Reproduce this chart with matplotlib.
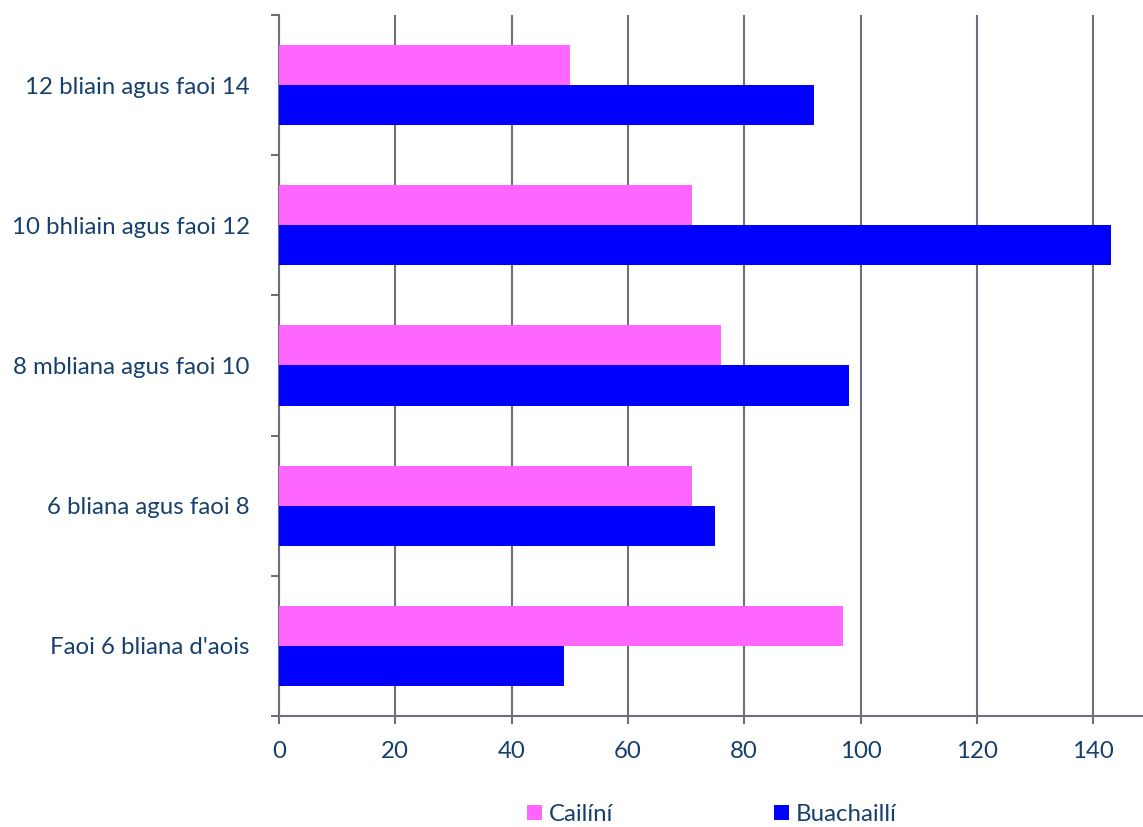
import matplotlib
matplotlib.use("Agg")
import matplotlib.pyplot as plt
import numpy as np

categories = ["Faoi 6 bliana d'aois", "6 bliana agus faoi 8", "8 mbliana agus faoi 10",
              "10 bhliain agus faoi 12", "12 bliain agus faoi 14"]
cailini = [97, 71, 76, 71, 50]
buachailli = [49, 75, 98, 143, 92]
series_names = ["Cailíní", "Buachaillí"]

plt.rcParams['font.family'] = ['Lato', 'DejaVu Sans']
text_col = "#17406D"
grid_col = "#6D707A"

fig = plt.figure(figsize=(11.43, 8.27), dpi=100)
ax = fig.add_axes([0.2441, 0.1342, 0.756, 0.8477])

y = np.arange(len(categories))
h = 40 / 140
ax.barh(y + h / 2, cailini, height=h, color="#FF66FF", label=series_names[0], zorder=3)
ax.barh(y - h / 2, buachailli, height=h, color="#0000FF", label=series_names[1], zorder=3)

ax.set_xlim(0, 148.6)
ax.set_ylim(-0.5, len(categories) - 0.5)
ax.set_xticks(np.arange(0, 141, 20))
ax.set_yticks(y)
ax.set_yticklabels(categories)
ax.set_yticks(np.arange(-0.5, len(categories), 1), minor=True)
ax.tick_params(axis='y', which='major', length=0, pad=21, labelsize=17.3, labelcolor=text_col)
ax.tick_params(axis='y', which='minor', length=6, width=1.5, color=grid_col, direction='out')
ax.tick_params(axis='x', length=6, width=1.5, color=grid_col, labelsize=17.3, labelcolor=text_col, pad=12)
ax.xaxis.grid(True, color=grid_col, linewidth=1.5, zorder=0)

for s in ['top', 'right']:
    ax.spines[s].set_visible(False)
for s in ['left', 'bottom']:
    ax.spines[s].set_color(grid_col)
    ax.spines[s].set_linewidth(1.5)

fig.legend(loc='center', bbox_to_anchor=(0.623, 0.015), ncol=2, frameon=False,
           fontsize=17.3, labelcolor=text_col, handlelength=0.6, handleheight=0.6,
           handletextpad=0.3, columnspacing=6.7, borderpad=0)

fig.savefig("out.png", dpi=100)
